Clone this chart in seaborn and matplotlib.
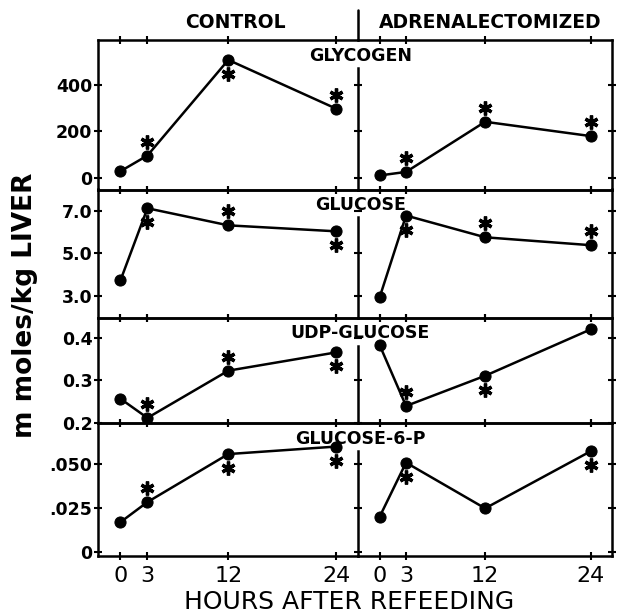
import numpy as np
import pandas as pd
import matplotlib
matplotlib.use('Agg')
import matplotlib.pyplot as plt
import seaborn as sns
from matplotlib.lines import Line2D
from matplotlib.transforms import ScaledTranslation

# data
hours = [0, 3, 12, 24]
groups = ['CONTROL', 'ADRENALECTOMIZED']
metabolites = ['GLYCOGEN', 'GLUCOSE', 'UDP-GLUCOSE', 'GLUCOSE-6-P']

glycogen_control = [30, 97, 505, 297]
glycogen_adx = [12, 27, 241, 180]
glucose_control = [3.74, 7.12, 6.32, 6.04]
glucose_adx = [2.95, 6.78, 5.76, 5.39]
udp_control = [0.257, 0.212, 0.323, 0.366]
udp_adx = [0.383, 0.240, 0.311, 0.420]
g6p_control = [0.0169, 0.0284, 0.0559, 0.0602]
g6p_adx = [0.0200, 0.0510, 0.0248, 0.0575]

# significance asterisk: 1 = above point, -1 = below point, 0 = none
glycogen_control_star = [0, 1, -1, 1]
glycogen_adx_star = [0, 1, 1, 1]
glucose_control_star = [0, -1, 1, -1]
glucose_adx_star = [0, -1, 1, 1]
udp_control_star = [0, 1, 1, -1]
udp_adx_star = [0, 1, -1, 0]
g6p_control_star = [0, 1, -1, -1]
g6p_adx_star = [0, -1, 0, -1]

yticks = [[0, 200, 400], [3.0, 5.0, 7.0], [0.2, 0.3, 0.4], [0, 0.025, 0.050]]
yticklabels = [['0', '200', '400'], ['3.0', '5.0', '7.0'],
               ['0.2', '0.3', '0.4'], ['0', '.025', '.050']]
ylims = [(-48, 590), (2.0, 8.0), (0.2, 0.448), (-0.0025, 0.0737)]

values = {
    ('GLYCOGEN', 'CONTROL'): (glycogen_control, glycogen_control_star),
    ('GLYCOGEN', 'ADRENALECTOMIZED'): (glycogen_adx, glycogen_adx_star),
    ('GLUCOSE', 'CONTROL'): (glucose_control, glucose_control_star),
    ('GLUCOSE', 'ADRENALECTOMIZED'): (glucose_adx, glucose_adx_star),
    ('UDP-GLUCOSE', 'CONTROL'): (udp_control, udp_control_star),
    ('UDP-GLUCOSE', 'ADRENALECTOMIZED'): (udp_adx, udp_adx_star),
    ('GLUCOSE-6-P', 'CONTROL'): (g6p_control, g6p_control_star),
    ('GLUCOSE-6-P', 'ADRENALECTOMIZED'): (g6p_adx, g6p_adx_star),
}
rows = []
for (m, g), (vals, stars) in values.items():
    for h, v, s in zip(hours, vals, stars):
        rows.append({'metabolite': m, 'group': g, 'hours': h, 'value': v, 'star': s})
df = pd.DataFrame(rows)

sns.set_style('white')
plt.rcParams['font.family'] = ['DejaVu Sans']
plt.rcParams['text.color'] = 'black'
plt.rcParams['xtick.color'] = 'black'
plt.rcParams['ytick.color'] = 'black'
plt.rcParams['axes.labelcolor'] = 'black'

W, H = 618, 614
fig = plt.figure(figsize=(W / 100, H / 100), dpi=100)
row_px = [149.5, 128, 105.5, 133]
gs = fig.add_gridspec(4, 2, left=98 / W, right=611.7 / W, top=1 - 40 / H, bottom=1 - 556 / H,
                      hspace=0, wspace=0, height_ratios=row_px, width_ratios=[259.7, 254])

up = ScaledTranslation(0, 0.14, fig.dpi_scale_trans)
down = ScaledTranslation(0, -0.14, fig.dpi_scale_trans)

for i, m in enumerate(metabolites):
    for j, g in enumerate(groups):
        ax = fig.add_subplot(gs[i, j])
        ax.set_facecolor('none')
        sub = df[(df.metabolite == m) & (df.group == g)]
        sns.lineplot(data=sub, x='hours', y='value', ax=ax, color='black', lw=1.8,
                     marker='o', markersize=8, markeredgecolor='black', legend=False)
        for sgn, off in [(1, up), (-1, down)]:
            s = sub[sub.star == sgn]
            ax.plot(s.hours, s.value, ls='none', marker=(6, 2, 0), ms=10, mew=2.4,
                    color='black', transform=ax.transData + off, clip_on=False)
        ax.set_xlim(-2.5, 26.4)
        ax.set_ylim(*ylims[i])
        ax.set_xticks(hours)
        ax.set_yticks(yticks[i])
        ax.set_xlabel('')
        ax.set_ylabel('')
        for sp in ax.spines.values():
            sp.set_linewidth(1.8)
            sp.set_color('black')
        ax.tick_params(axis='both', direction='inout', length=6, width=1.5, color='black',
                       labelcolor='black', top=True, bottom=True, left=True, right=(j == 1))
        if j == 0:
            ax.spines['right'].set_visible(False)
            ax.set_yticklabels(yticklabels[i], fontsize=12.5, fontweight='bold')
            ax.tick_params(axis='y', pad=1)
        else:
            ax.set_yticklabels([])
            lo, hi = ylims[i]
            ax.spines['left'].set_bounds(lo, hi - 28 / row_px[i] * (hi - lo))
            ax.text(0.01, 1 - 16 / row_px[i], m, transform=ax.transAxes, ha='center',
                    va='center', fontsize=12.5, fontweight='bold', clip_on=False, zorder=5)
        if i == 3:
            ax.set_xticklabels([str(h) for h in hours], fontsize=16)
            ax.tick_params(axis='x', pad=4)
        else:
            ax.set_xticklabels([])

# column headers and separator
fig.add_artist(Line2D([357.7 / W, 357.7 / W], [1 - 10 / H, 1 - 40 / H], color='black', lw=1.8))
fig.text(235 / W, 1 - 22 / H, 'CONTROL', ha='center', va='center', fontsize=13.5,
         fontweight='bold')
fig.text(490 / W, 1 - 22 / H, 'ADRENALECTOMIZED', ha='center', va='center', fontsize=13.5,
         fontweight='bold')

fig.text(25 / W, 1 - 305 / H, 'm moles/kg LIVER', rotation=90, ha='center', va='center',
         fontsize=19, fontweight='bold')
fig.text(349 / W, 1 - 602 / H, 'HOURS AFTER REFEEDING', ha='center', va='center', fontsize=18)

fig.savefig('out.png', dpi=100)
